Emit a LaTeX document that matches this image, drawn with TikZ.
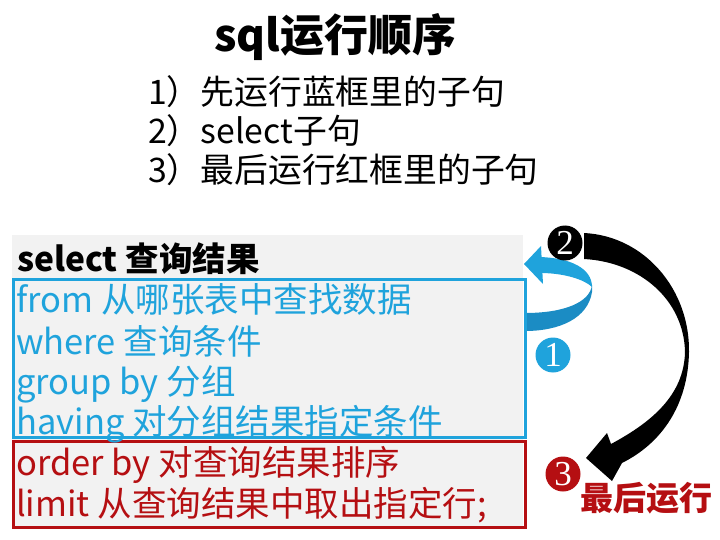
\documentclass[tikz,border=0pt]{standalone}
\usepackage{fontspec}
\setmainfont{Noto Sans CJK SC}
\newfontfamily\numfont{Liberation Serif}
\definecolor{bluetxt}{HTML}{1FA3DC}
\definecolor{bluedark}{HTML}{1B8CC4}
\definecolor{redtxt}{HTML}{B50F12}
\definecolor{graybg}{HTML}{F2F2F2}
\tikzset{
  body/.style={anchor=base west, inner sep=0pt, font=\fontsize{34.5}{40}\selectfont},
  listline/.style={anchor=base west, inner sep=0pt, font=\fontsize{33.8}{40}\selectfont, text=black},
  numcirc/.style={circle, minimum size=35pt, inner sep=0pt, text=white, font=\numfont\fontsize{35}{35}\selectfont}
}
\begin{document}
\begin{tikzpicture}[x=1pt,y=-1pt]
\useasboundingbox (0,0) rectangle (720,540);
% title
\node[inner sep=0pt, anchor=base, font=\bfseries\fontsize{44}{50}\selectfont] (title) at (335,52) {sql运行顺序};
\node[listline] (l1) at (148,105) {1）先运行蓝框里的子句};
\node[listline] (l2) at (148,144) {2）select子句};
\node[listline] (l3) at (148,183) {3）最后运行红框里的子句};
% gray panel and boxes
\fill[graybg] (12,235) rectangle (523,528);
% blue ribbon
\fill[bluedark] (525,313) .. controls (565,313) and (590,302) .. (592,285) -- (592,292) .. controls (588,318) and (560,331) .. (525,331) -- cycle;
\fill[bluetxt] (540,257) .. controls (570,258) and (592,268) .. (592,287) .. controls (585,280) and (565,273) .. (540,273) -- cycle;
\fill[bluetxt] (541,246) -- (524,264) -- (543,284) -- cycle;
\draw[bluetxt, line width=3pt] (13,279) rectangle (525,437);
\draw[redtxt, line width=3pt] (13,441) rectangle (525,527);
% text
\node[body, font=\bfseries\fontsize{33.5}{40}\selectfont] (sel) at (17,271) {select 查询结果};
\node[body, text=bluetxt] (from) at (16,312) {from 从哪张表中查找数据};
\node[body, text=bluetxt] (where) at (16,354) {where 查询条件};
\node[body, text=bluetxt] (group) at (16,394) {group by 分组};
\node[body, text=bluetxt] (having) at (16,434) {having 对分组结果指定条件};
\node[body, text=redtxt] (order) at (16,475) {order by 对查询结果排序};
\node[body, text=redtxt] (limit) at (16,516) {limit 从查询结果中取出指定行;};
% black arrow
\fill[black] (584,233) .. controls (645,236) and (690,290) .. (689,352) .. controls (688,405) and (662,443) .. (622,463) -- (612,481) -- (586,458) -- (607,433) -- (611,444) .. controls (652,422) and (684,395) .. (685,352) .. controls (684,300) and (640,262) .. (584,259) -- cycle;
% number circles
\node[numcirc, fill=black] (c2) at (565,243) {2};
\node[numcirc, fill=bluetxt] (c1) at (553,355) {1};
\node[numcirc, fill=redtxt] (c3) at (563,474) {3};
\node[inner sep=0pt, anchor=center, text=redtxt, font=\bfseries\fontsize{33}{36}\selectfont] (last) at (646,498) {最后运行};
\end{tikzpicture}
\end{document}
